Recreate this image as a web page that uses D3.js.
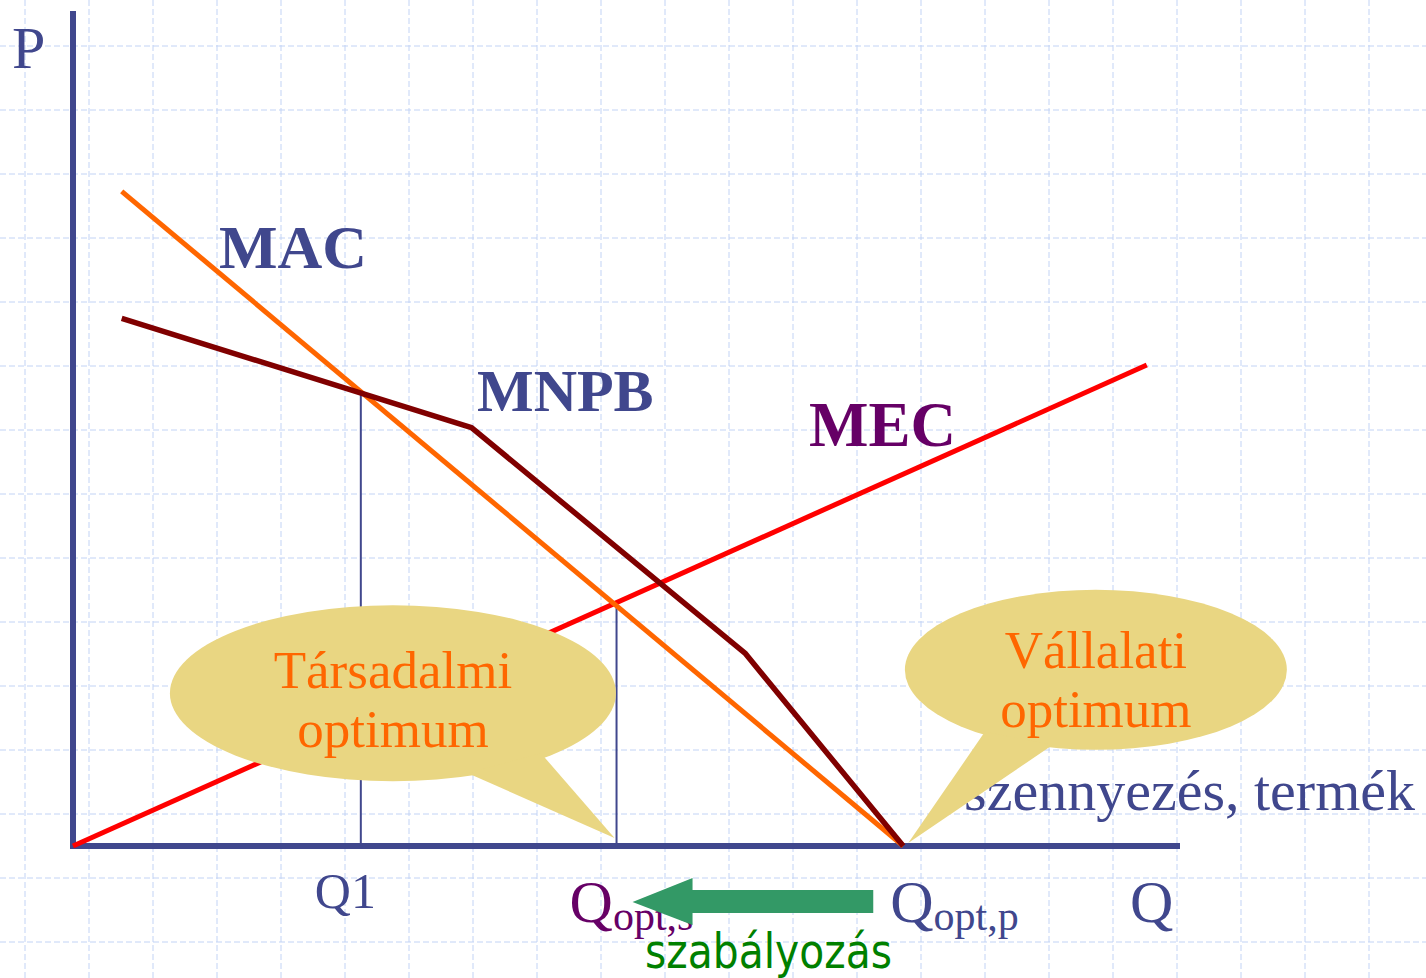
<!DOCTYPE html>
<html>
<head>
<meta charset="utf-8">
<script src="https://cdn.jsdelivr.net/npm/d3@7"></script>
<style>
  html, body { margin: 0; padding: 0; background: #fff; }
  svg { display: block; }
  .serif { font-family: 'Liberation Serif', 'Times New Roman', serif; }
</style>
</head>
<body>
<svg id="chart" width="1426" height="978"></svg>
<script>
/* global d3 */

// curves (Q, P in chart units 0..100)
const macQ = [4.4, 75]
const macP = [78.4, 0]
const mnpbQ = [4.4, 36.0, 60.7, 75]
const mnpbP = [63.2, 50.1, 23.1, 0]
const mecQ = [0, 97.0]
const mecP = [0, 57.6]

// marked quantities
const q1 = 26.0
const qOptS = 49.1
const qOptP = 75

const bubbleTexts = [['Társadalmi', 'optimum'], ['Vállalati', 'optimum']]
const bubbleCenters = [[28.9, 18.3], [92.4, 21.1]]
const bubbleTips = [qOptS, qOptP]

const axisColor = '#40478d'
const bubbleColor = '#e9d682'

const svg = d3.select('#chart')
const W = 1426
const H = 978

const x = d3.scaleLinear().domain([0, 100]).range([73, 1180])
const y = d3.scaleLinear().domain([0, 100]).range([846, 11])

// background grid
const grid = svg.append('g')
  .attr('stroke', '#c2d3f5')
  .attr('stroke-width', 1)
  .attr('stroke-dasharray', '6,3')
grid.selectAll('.gv')
  .data(d3.range(25, W, 64))
  .enter().append('line')
  .attr('x1', d => d).attr('x2', d => d)
  .attr('y1', 0).attr('y2', H)
grid.selectAll('.gh')
  .data(d3.range(46, H, 64))
  .enter().append('line')
  .attr('y1', d => d).attr('y2', d => d)
  .attr('x1', 0).attr('x2', W)

// axes
svg.append('line')
  .attr('x1', x(0)).attr('x2', x(0))
  .attr('y1', y(100)).attr('y2', y(0) + 3)
  .attr('stroke', axisColor).attr('stroke-width', 6)
svg.append('line')
  .attr('x1', x(0) - 3).attr('x2', x(100))
  .attr('y1', y(0)).attr('y2', y(0))
  .attr('stroke', axisColor).attr('stroke-width', 6)

function macAt(q) {
  return macP[0] + (q - macQ[0]) * (macP[1] - macP[0]) / (macQ[1] - macQ[0])
}

// drop lines
svg.selectAll('.drop')
  .data([q1, qOptS])
  .enter().append('line')
  .attr('x1', d => x(d)).attr('x2', d => x(d))
  .attr('y1', d => y(macAt(d))).attr('y2', y(0))
  .attr('stroke', axisColor).attr('stroke-width', 2)

const line = d3.line().x(d => x(d[0])).y(d => y(d[1]))
const curves = [
  { q: mecQ, p: mecP, color: '#ff0000', w: 5 },
  { q: macQ, p: macP, color: '#ff6600', w: 5 },
  { q: mnpbQ, p: mnpbP, color: '#800000', w: 5.5 }
]
svg.selectAll('.curve')
  .data(curves)
  .enter().append('path')
  .attr('d', c => line(d3.zip(c.q, c.p)))
  .attr('fill', 'none')
  .attr('stroke', c => c.color)
  .attr('stroke-width', c => c.w)
  .attr('stroke-linejoin', 'round')

// axis/curve labels
svg.append('text').attr('class', 'serif')
  .attr('x', 12).attr('y', 68)
  .attr('font-size', 60).attr('fill', axisColor).text('P')
svg.append('text').attr('class', 'serif')
  .attr('x', 219).attr('y', 268)
  .attr('font-size', 62).attr('font-weight', 'bold').attr('fill', axisColor).text('MAC')
svg.append('text').attr('class', 'serif')
  .attr('x', 477).attr('y', 411)
  .attr('font-size', 60).attr('font-weight', 'bold').attr('fill', axisColor).text('MNPB')
svg.append('text').attr('class', 'serif')
  .attr('x', 809).attr('y', 446)
  .attr('font-size', 63).attr('font-weight', 'bold').attr('fill', '#660066').text('MEC')
svg.append('text').attr('class', 'serif')
  .attr('x', 1415).attr('y', 810)
  .attr('text-anchor', 'end')
  .attr('font-size', 58).attr('fill', axisColor).text('szennyezés, termék')

// speech bubbles
const tails = [[[75, 80], [148, 60]], [[-111, 62], [-43, 75]]]
bubbleCenters.forEach((c, i) => {
  const cx = x(c[0])
  const cy = y(c[1])
  const g = svg.append('g')
  const rx = i === 0 ? 223 : 191
  const ry = i === 0 ? 88 : 80
  g.append('ellipse')
    .attr('cx', cx).attr('cy', cy).attr('rx', rx).attr('ry', ry)
    .attr('fill', bubbleColor)
  const tip = [x(bubbleTips[i]) + (i === 0 ? -2 : 5), y(0) - (i === 0 ? 8 : 3)]
  g.append('path')
    .attr('d', d3.line()([[cx + tails[i][0][0], cy + tails[i][0][1]], tip, [cx + tails[i][1][0], cy + tails[i][1][1]]]) + 'Z')
    .attr('fill', bubbleColor)
  g.selectAll('text')
    .data(bubbleTexts[i])
    .enter().append('text')
    .attr('class', 'serif')
    .attr('x', cx)
    .attr('y', (d, j) => cy + (i === 0 ? -5 : -2) + j * 59)
    .attr('text-anchor', 'middle')
    .attr('font-size', 53)
    .attr('fill', '#ff6600')
    .text(d => d)
})

// bottom labels
svg.append('text').attr('class', 'serif')
  .attr('x', x(q1) - 46).attr('y', 908)
  .attr('font-size', 50).attr('fill', axisColor)
  .text('Q1')

function subLabel(px, color) {
  const t = svg.append('text').attr('class', 'serif')
    .attr('x', px).attr('y', 922).attr('fill', color)
  t.append('tspan').attr('font-size', 60).text('Q')
  return t
}
subLabel(x(qOptS) - 47, '#660066')
  .append('tspan').attr('font-size', 42).attr('dy', 8).text('opt,s')
subLabel(x(qOptP) - 13, axisColor)
  .append('tspan').attr('font-size', 42).attr('dy', 8).text('opt,p')
svg.append('text').attr('class', 'serif')
  .attr('x', 1130).attr('y', 922)
  .attr('font-size', 60).attr('fill', axisColor).text('Q')

// regulation arrow
const ax0 = x(qOptS) + 16
const ax1 = x(qOptP) - 30
const ay = 902
svg.append('path')
  .attr('d', d3.line()([
    [ax0, ay], [ax0 + 60, ay - 24], [ax0 + 60, ay - 12], [ax1, ay - 12],
    [ax1, ay + 11], [ax0 + 60, ay + 11], [ax0 + 60, ay + 23]
  ]) + 'Z')
  .attr('fill', '#339966')

svg.append('text')
  .attr('x', 645).attr('y', 968)
  .attr('font-family', "'DejaVu Sans', Verdana, sans-serif")
  .attr('font-size', 48)
  .attr('textLength', 247)
  .attr('lengthAdjust', 'spacingAndGlyphs')
  .attr('fill', '#008000')
  .text('szabályozás')
</script>
</body>
</html>
